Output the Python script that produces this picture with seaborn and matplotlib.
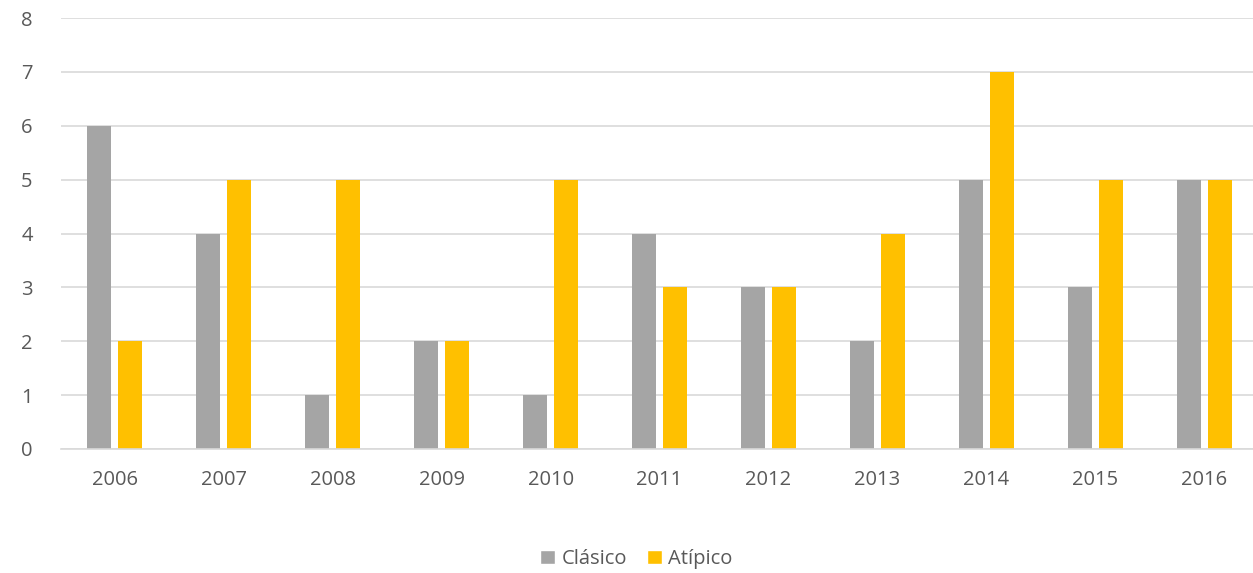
import matplotlib
matplotlib.use("Agg")
import matplotlib.pyplot as plt
import seaborn as sns
import pandas as pd

years = ["2006", "2007", "2008", "2009", "2010", "2011", "2012", "2013", "2014", "2015", "2016"]
clasico = [6, 4, 1, 2, 1, 4, 3, 2, 5, 3, 5]
atipico = [2, 5, 5, 2, 5, 3, 3, 4, 7, 5, 5]
series_names = ["Clásico", "Atípico"]
yticks = [0, 1, 2, 3, 4, 5, 6, 7, 8]

df = pd.DataFrame({
    "year": years * 2,
    "value": clasico + atipico,
    "serie": [series_names[0]] * len(years) + [series_names[1]] * len(years),
})

sns.set_theme(style="white")
plt.rcParams['font.family'] = ['Open Sans', 'DejaVu Sans']
text_color = "#595959"

fig = plt.figure(figsize=(12.53, 5.73), dpi=100)
ax = fig.add_axes([60.5 / 1253, 1 - 449 / 573, (1258.5 - 60.5) / 1253, (449 - 18) / 573])

sns.barplot(data=df, x="year", y="value", hue="serie", order=years,
            hue_order=series_names, palette=["#A5A5A5", "#FFC000"],
            width=0.569, gap=0.226, ax=ax, legend=False, saturation=1,
            linewidth=0, edgecolor="none")

ax.set_xlim(-0.5, len(years) - 0.5)
ax.set_ylim(0, 8)
ax.set_yticks(yticks)
ax.yaxis.grid(True, color="#D9D9D9", linewidth=1.2)
ax.set_axisbelow(True)
for s in ["top", "right", "left"]:
    ax.spines[s].set_visible(False)
ax.spines["bottom"].set_color("#D9D9D9")
ax.spines["bottom"].set_linewidth(1.2)
ax.set_xlabel("")
ax.set_ylabel("")
ax.tick_params(axis="both", length=0, labelsize=14.5, colors=text_color)
ax.tick_params(axis="x", pad=15)
ax.tick_params(axis="y", pad=20)

from matplotlib.patches import Patch
handles = [Patch(facecolor="#A5A5A5"), Patch(facecolor="#FFC000")]
leg = fig.legend(handles, series_names, loc="center", bbox_to_anchor=(0.508, 1 - 559 / 573),
                 ncol=2, frameon=False, fontsize=14.5, handlelength=0.75, handleheight=0.75,
                 handletextpad=0.3, columnspacing=1.0)
for t in leg.get_texts():
    t.set_color(text_color)

fig.savefig("out.png", dpi=100)
